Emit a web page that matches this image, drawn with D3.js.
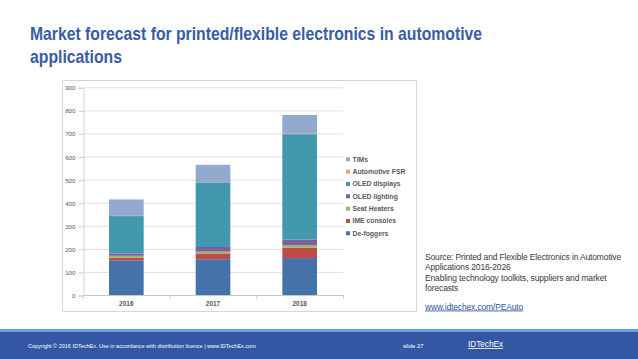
<!DOCTYPE html>
<html>
<head>
<meta charset="utf-8">
<script src="https://cdn.jsdelivr.net/npm/d3@7"></script>
<style>
  body { margin: 0; background: #fff; }
  text { font-family: "Liberation Sans", Arial, sans-serif; }
</style>
</head>
<body>
<script>
// 年份 / series data
var years = ["2016", "2017", "2018"];
var seriesNames = ["De-foggers", "IME consoles", "Seat Heaters", "OLED lighting", "OLED displays", "Automotive FSR", "TIMs"];
var seriesColors = ["#4672AA", "#BE4B48", "#98B954", "#7D5FA0", "#4198AF", "#F59D56", "#93A9D0"];
var deFoggers = [150, 155, 160];
var imeConsoles = [12, 25, 45];
var seatHeaters = [8, 8, 10];
var oledLighting = [10, 20, 25];
var oledDisplays = [162, 280, 457];
var automotiveFsr = [1, 1, 2];
var tims = [71, 75, 81];
var yTicks = [0, 100, 200, 300, 400, 500, 600, 700, 800, 900];

var allSeries = [deFoggers, imeConsoles, seatHeaters, oledLighting, oledDisplays, automotiveFsr, tims];
var table = years.map(function (y, i) {
    var row = { year: y };
    seriesNames.forEach(function (s, j) { row[s] = allSeries[j][i]; });
    return row;
});

var svg = d3.select("body").append("svg")
    .attr("width", 638)
    .attr("height", 359);

// title (narrow Helvetica look -> squeeze to the slide's width)
var title = svg.append("text")
    .attr("fill", "#3A5CA6")
    .attr("font-weight", "bold")
    .attr("font-size", 18.5);
title.append("tspan").attr("x", 30).attr("y", 40)
    .attr("textLength", 452).attr("lengthAdjust", "spacingAndGlyphs")
    .text("Market forecast for printed/flexible electronics in automotive");
title.append("tspan").attr("x", 30).attr("y", 63)
    .attr("textLength", 92).attr("lengthAdjust", "spacingAndGlyphs")
    .text("applications");

// chart picture frame
svg.append("rect")
    .attr("x", 62.5).attr("y", 80.5)
    .attr("width", 354).attr("height", 231)
    .attr("fill", "#fff")
    .attr("stroke", "#d6d6d6");

var x = d3.scaleBand()
    .domain(years)
    .range([83, 343])
    .paddingInner(0.6)
    .paddingOuter(0.3);

var y = d3.scaleLinear()
    .domain([0, 900])
    .range([295, 87.3]);

// gridlines
svg.append("g")
    .selectAll("line")
    .data(yTicks)
    .enter()
    .append("line")
    .attr("x1", 83).attr("x2", 343)
    .attr("y1", function (d) { return y(d) + 0.5; })
    .attr("y2", function (d) { return y(d) + 0.5; })
    .attr("stroke", function (d) { return d === 0 ? "#c8c8c8" : "#e0e0e0"; })
    .attr("stroke-width", 1);

// y axis
var yAxis = svg.append("g")
    .attr("transform", "translate(83.5,0.5)")
    .call(d3.axisLeft(y).tickValues(yTicks).tickSize(5).tickPadding(3));
yAxis.select(".domain").attr("stroke", "#d0d0d0");
yAxis.selectAll(".tick line").attr("stroke", "#d0d0d0");
yAxis.selectAll("text")
    .attr("font-size", 6.2)
    .attr("fill", "#595959")
    .attr("font-family", "Liberation Sans, Arial, sans-serif");

// x axis
var xAxis = svg.append("g")
    .attr("transform", "translate(0,295.5)")
    .call(d3.axisBottom(x).tickSize(0).tickPadding(6));
xAxis.select(".domain").remove();
xAxis.selectAll("text")
    .attr("font-size", 6.5)
    .attr("font-weight", "bold")
    .attr("fill", "#595959")
    .attr("font-family", "Liberation Sans, Arial, sans-serif");
// category separator ticks
svg.append("g")
    .selectAll("line")
    .data([83, 169.7, 256.3, 343])
    .enter()
    .append("line")
    .attr("x1", function (d) { return d + 0.5; })
    .attr("x2", function (d) { return d + 0.5; })
    .attr("y1", 295).attr("y2", 299)
    .attr("stroke", "#d0d0d0");

// stacked bars
var stack = d3.stack().keys(seriesNames);
var layers = stack(table);
svg.append("g")
    .selectAll("g")
    .data(layers)
    .enter()
    .append("g")
    .attr("fill", function (d, i) { return seriesColors[i]; })
    .selectAll("rect")
    .data(function (d) { return d; })
    .enter()
    .append("rect")
    .attr("x", function (d) { return x(d.data.year); })
    .attr("y", function (d) { return y(d[1]); })
    .attr("width", x.bandwidth())
    .attr("height", function (d) { return y(d[0]) - y(d[1]); });

// legend (reversed, like Excel)
var legendNames = seriesNames.slice().reverse();
var legend = svg.append("g")
    .selectAll("g")
    .data(legendNames)
    .enter()
    .append("g")
    .attr("transform", function (d, i) { return "translate(346," + (159.3 + i * 12.33) + ")"; });
legend.append("rect")
    .attr("x", 0).attr("y", -2)
    .attr("width", 4).attr("height", 4)
    .attr("fill", function (d) { return seriesColors[seriesNames.indexOf(d)]; });
legend.append("text")
    .attr("x", 6.5)
    .attr("y", 2.4)
    .attr("font-size", 6.8)
    .attr("font-weight", "bold")
    .attr("fill", "#595959")
    .text(function (d) { return d; });

// source note
var sourceLines = [
    "Source: Printed and Flexible Electronics in Automotive",
    "Applications 2016-2026",
    "Enabling technology toolkits, suppliers and market",
    "forecasts"
];
svg.append("g")
    .selectAll("text")
    .data(sourceLines)
    .enter()
    .append("text")
    .attr("x", 425)
    .attr("y", function (d, i) { return 260 + i * 10.3; })
    .attr("font-size", 8.5)
    .attr("letter-spacing", -0.15)
    .attr("fill", "#3a3a3a")
    .text(function (d) { return d; });
svg.append("text")
    .attr("x", 425)
    .attr("y", 309.5)
    .attr("font-size", 8.5)
    .attr("letter-spacing", -0.15)
    .attr("fill", "#2F55A4")
    .attr("text-decoration", "underline")
    .text("www.idtechex.com/PEAuto");

// footer band
svg.append("rect")
    .attr("x", 0).attr("y", 329)
    .attr("width", 638).attr("height", 4)
    .attr("fill", "#6E9DE0");
svg.append("rect")
    .attr("x", 0).attr("y", 332)
    .attr("width", 638).attr("height", 27)
    .attr("fill", "#3457A5");
svg.append("text")
    .attr("x", 28)
    .attr("y", 348)
    .attr("font-size", 5.5)
    .attr("fill", "#fff")
    .text("Copyright \u00A9 2016 IDTechEx. Use in accordance with distribution licence  |  www.IDTechEx.com");
svg.append("text")
    .attr("x", 403)
    .attr("y", 348)
    .attr("font-size", 6)
    .attr("fill", "#fff")
    .text("slide  27");
svg.append("text")
    .attr("x", 468)
    .attr("y", 347)
    .attr("font-size", 8.2)
    .attr("fill", "#fff")
    .attr("text-decoration", "underline")
    .text("IDTechEx");
</script>
</body>
</html>
